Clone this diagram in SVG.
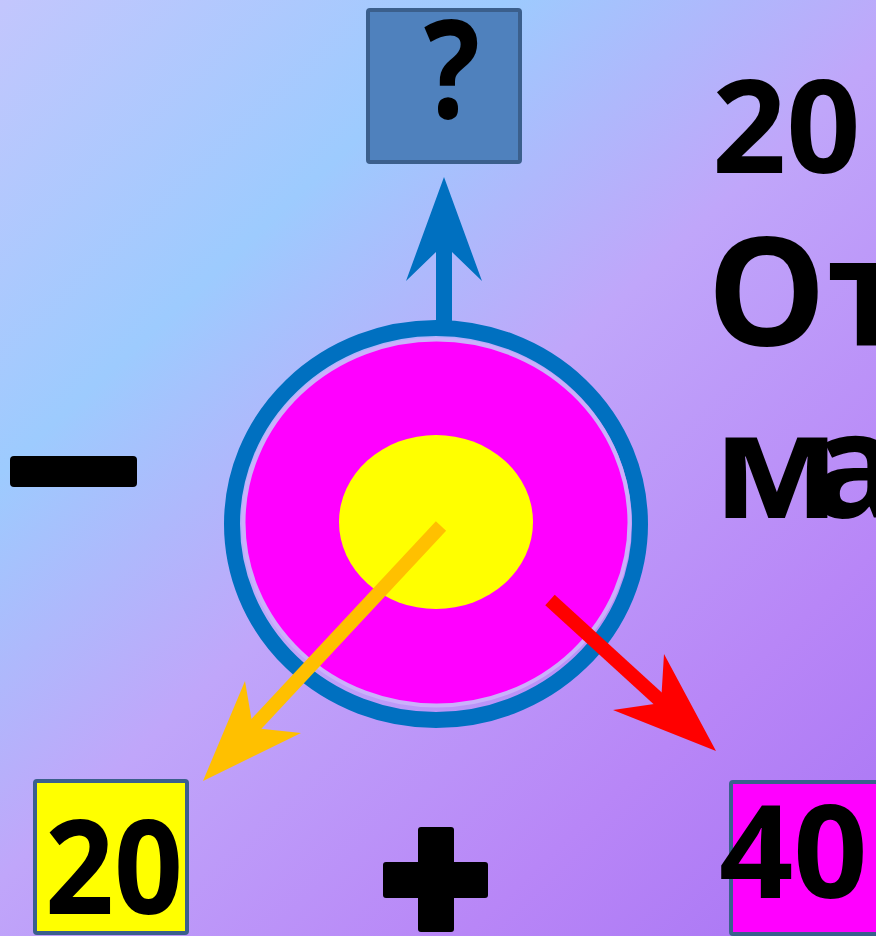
<svg xmlns="http://www.w3.org/2000/svg" width="876" height="936" viewBox="0 0 876 936">
<defs>
<linearGradient id="bg" gradientUnits="userSpaceOnUse" x1="0" y1="0" x2="876" y2="936">
<stop offset="0" stop-color="#c3c6fd"/>
<stop offset="0.27" stop-color="#9dcbfe"/>
<stop offset="0.5" stop-color="#c0a6fa"/>
<stop offset="0.78" stop-color="#b886f7"/>
<stop offset="1" stop-color="#a874f4"/>
</linearGradient>
<style>
.box{stroke:#3b5f8c;stroke-width:4}
.t{font-family:"Open Sans","DejaVu Sans",sans-serif;font-weight:bold;fill:#000}
</style>
</defs>
<rect width="876" height="936" fill="url(#bg)"/>

<g id="target">
<ellipse cx="436" cy="524" rx="204" ry="196" fill="none" stroke="#0070c0" stroke-width="16"/>
<ellipse cx="436.5" cy="522.5" rx="193" ry="183" fill="#ff00ff" stroke="#cbb0fb" stroke-width="4"/>
<ellipse cx="436" cy="522" rx="97" ry="87" fill="#ffff00"/>
</g>

<g id="connectors">
<polygon points="444,177 482,281 452,252 452,324 436,324 436,252 406,281" fill="#0070c0"/>
<line x1="441" y1="526" x2="247" y2="734" stroke="#ffc000" stroke-width="14"/>
<polygon points="203,781 245,681 253,728 301,733" fill="#ffc000"/>
<line x1="550" y1="600" x2="665" y2="705" stroke="#ff0000" stroke-width="14"/>
<polygon points="716,751 664,654 661,703 613,710" fill="#ff0000"/>
</g>

<g id="box-question">
<rect class="box" x="368" y="10" width="152" height="152" rx="2" fill="#4f81bd"/>
<text class="t" x="424" y="118" font-size="137" textLength="56" lengthAdjust="spacingAndGlyphs">?</text>
</g>

<g id="box-20">
<rect class="box" x="35" y="781" width="152" height="152" rx="2" fill="#ffff00"/>
<text class="t" x="45" y="914" font-size="131" textLength="138" lengthAdjust="spacingAndGlyphs">20</text>
</g>

<g id="box-40">
<rect class="box" x="731" y="782" width="152" height="152" rx="2" fill="#ff00ff"/>
<text class="t" x="719" y="898" font-size="130">40</text>
</g>

<g id="minus">
<rect x="10" y="456" width="127" height="31" rx="4" fill="#000"/>
</g>

<g id="plus">
<rect x="418" y="827" width="36" height="105" rx="3" fill="#000"/>
<rect x="383" y="862" width="105" height="36" rx="3" fill="#000"/>
</g>

<g id="side-text">
<text class="t" x="712" y="173" font-size="130">20</text>
<text class="t" x="707" y="346" font-size="150">От</text>
<text class="t" x="714" y="518" font-size="148" letter-spacing="-28">ма</text>
</g>
</svg>
